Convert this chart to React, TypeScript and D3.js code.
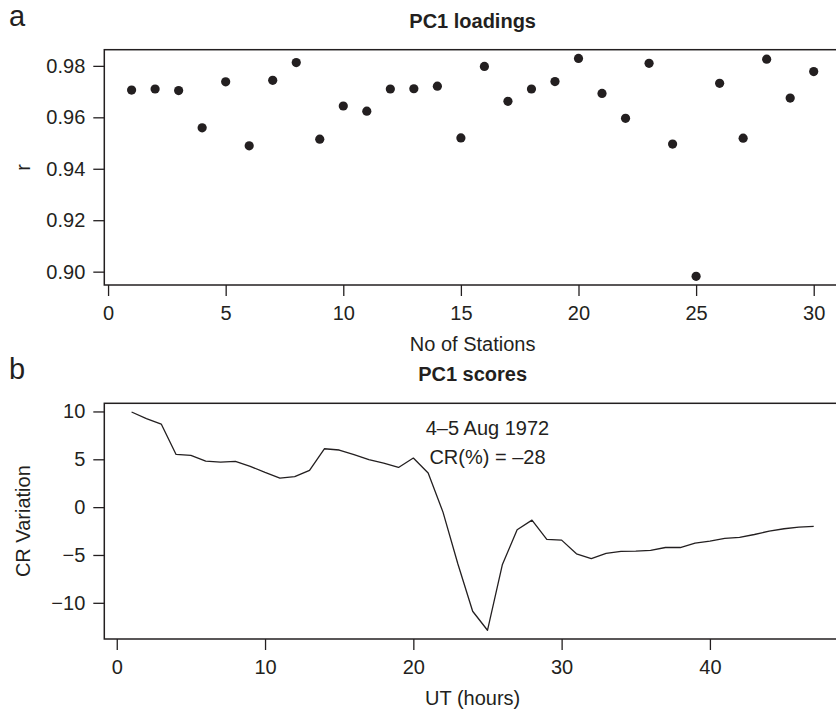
import React, { useEffect, useRef } from "react";
import * as d3 from "d3";

// Panel a: PC1 loadings per station
const stations = [1, 2, 3, 4, 5, 6, 7, 8, 9, 10, 11, 12, 13, 14, 15, 16, 17, 18, 19, 20, 21, 22, 23, 24, 25, 26, 27, 28, 29, 30];
const loadings = [0.9706, 0.971, 0.9704, 0.9559, 0.9738, 0.9489, 0.9744, 0.9813, 0.9515, 0.9644,
  0.9624, 0.971, 0.9711, 0.9721, 0.952, 0.9798, 0.9662, 0.971, 0.9739, 0.9829,
  0.9693, 0.9596, 0.981, 0.9496, 0.8982, 0.9732, 0.9519, 0.9826, 0.9675, 0.9778];
const loadingXTicks = [0, 5, 10, 15, 20, 25, 30];
const loadingYTicks = [0.9, 0.92, 0.94, 0.96, 0.98];

// Panel b: PC1 scores per UT hour
const hours = [1, 2, 3, 4, 5, 6, 7, 8, 9, 10, 11, 12, 13, 14, 15, 16, 17, 18, 19, 20, 21, 22, 23, 24,
  25, 26, 27, 28, 29, 30, 31, 32, 33, 34, 35, 36, 37, 38, 39, 40, 41, 42, 43, 44, 45, 46, 47];
const scores = [9.94, 9.25, 8.68, 5.51, 5.41, 4.81, 4.71, 4.78, 4.26, 3.63, 3.04, 3.18, 3.84, 6.1,
  5.97, 5.48, 4.96, 4.6, 4.15, 5.13, 3.56, -0.52, -5.92, -10.88, -12.87, -6.03, -2.37, -1.36,
  -3.38, -3.45, -4.88, -5.37, -4.84, -4.63, -4.6, -4.53, -4.22, -4.22, -3.76, -3.55, -3.27,
  -3.17, -2.86, -2.51, -2.26, -2.09, -2.02];
const scoreXTicks = [0, 10, 20, 30, 40];
const scoreYTicks = [-10, -5, 0, 5, 10];

const W = 836;
const H = 712;
const ink = "#231f20";
const font = "'Liberation Sans', Arial, Helvetica, sans-serif";
const plotLeft = 104.3;
const plotRight = 841;
const panelA = { top: 49.7, bottom: 285 };
const panelB = { top: 403.3, bottom: 639 };

// R style 4% padding of the data range
function padded(values: number[]): [number, number] {
  const [lo, hi] = d3.extent(values) as [number, number];
  const p = (hi - lo) * 0.04;
  return [lo - p, hi + p];
}

function App() {
  const ref = useRef<SVGSVGElement | null>(null);

  useEffect(() => {
    const svg = d3.select(ref.current).html("");

    function drawPanel(
      top: number, bottom: number,
      x: d3.ScaleLinear<number, number>, y: d3.ScaleLinear<number, number>,
      xTicks: number[], yTicks: number[], yFormat: (d: number) => string,
      title: string, xLabel: string, yLabel: string, letter: string
    ) {
      const g = svg.append("g");

      g.append("rect")
        .attr("x", plotLeft).attr("y", top)
        .attr("width", plotRight - plotLeft).attr("height", bottom - top)
        .attr("fill", "none").attr("stroke", ink).attr("stroke-width", 1.5);

      const xAxis = g.append("g")
        .attr("transform", `translate(0,${bottom})`)
        .call(d3.axisBottom(x).tickValues(xTicks).tickSize(11).tickPadding(10).tickFormat(d3.format("d")));
      const yAxis = g.append("g")
        .attr("transform", `translate(${plotLeft},0)`)
        .call(d3.axisLeft(y).tickValues(yTicks).tickSize(11).tickPadding(8).tickFormat((d) => yFormat(+d)));

      [xAxis, yAxis].forEach((a) => {
        a.select(".domain").remove();
        a.selectAll("line").attr("stroke", ink).attr("stroke-width", 1.3);
        a.selectAll("text").attr("fill", ink).attr("font-size", 20).attr("font-family", font);
      });

      g.append("text")
        .attr("x", (plotLeft + plotRight) / 2).attr("y", top - 22)
        .attr("text-anchor", "middle").attr("font-weight", "bold")
        .attr("font-size", 20).attr("font-family", font).attr("fill", ink)
        .text(title);

      g.append("text")
        .attr("x", (plotLeft + plotRight) / 2).attr("y", bottom + 66)
        .attr("text-anchor", "middle")
        .attr("font-size", 20).attr("font-family", font).attr("fill", ink)
        .text(xLabel);

      g.append("text")
        .attr("transform", `translate(30,${(top + bottom) / 2}) rotate(-90)`)
        .attr("text-anchor", "middle")
        .attr("font-size", 20).attr("font-family", font).attr("fill", ink)
        .text(yLabel);

      g.append("text")
        .attr("x", 9).attr("y", top - 24)
        .attr("font-size", 29).attr("font-family", font).attr("fill", ink)
        .text(letter);
    }

    // Panel a
    const xA = d3.scaleLinear().domain(padded(stations)).range([plotLeft, plotRight]);
    const yA = d3.scaleLinear().domain(padded(loadings)).range([panelA.bottom, panelA.top]);
    drawPanel(panelA.top, panelA.bottom, xA, yA, loadingXTicks, loadingYTicks, d3.format(".2f"),
      "PC1 loadings", "No of Stations", "r", "a");

    svg.append("g").selectAll("circle")
      .data(stations)
      .enter().append("circle")
      .attr("cx", (d) => xA(d))
      .attr("cy", (d, i) => yA(loadings[i]))
      .attr("r", 4.6)
      .attr("fill", ink);

    // Panel b
    const xB = d3.scaleLinear().domain(padded(hours)).range([plotLeft, plotRight]);
    const yB = d3.scaleLinear().domain(padded(scores)).range([panelB.bottom, panelB.top]);
    drawPanel(panelB.top, panelB.bottom, xB, yB, scoreXTicks, scoreYTicks,
      (d) => (d < 0 ? "\u2212" + Math.abs(d) : String(d)),
      "PC1 scores", "UT (hours)", "CR Variation", "b");

    const line = d3.line<number>()
      .x((d) => xB(d))
      .y((d, i) => yB(scores[i]));
    svg.append("path")
      .datum(hours)
      .attr("d", line)
      .attr("fill", "none")
      .attr("stroke", ink)
      .attr("stroke-width", 1.3)
      .attr("stroke-linejoin", "round");

    const notes = svg.append("g")
      .attr("font-size", 20).attr("font-family", font).attr("fill", ink)
      .attr("text-anchor", "middle");
    notes.append("text").attr("x", xB(25)).attr("y", yB(7.5)).text("4\u20135 Aug 1972");
    notes.append("text").attr("x", xB(25)).attr("y", yB(4.55)).text("CR(%) = \u201328");
  }, []);

  return (
    <svg
      ref={ref}
      width={W}
      height={H}
      style={{ position: "absolute", left: 0, top: 0, background: "#fff", overflow: "hidden" }}
    />
  );
}

export default App;
